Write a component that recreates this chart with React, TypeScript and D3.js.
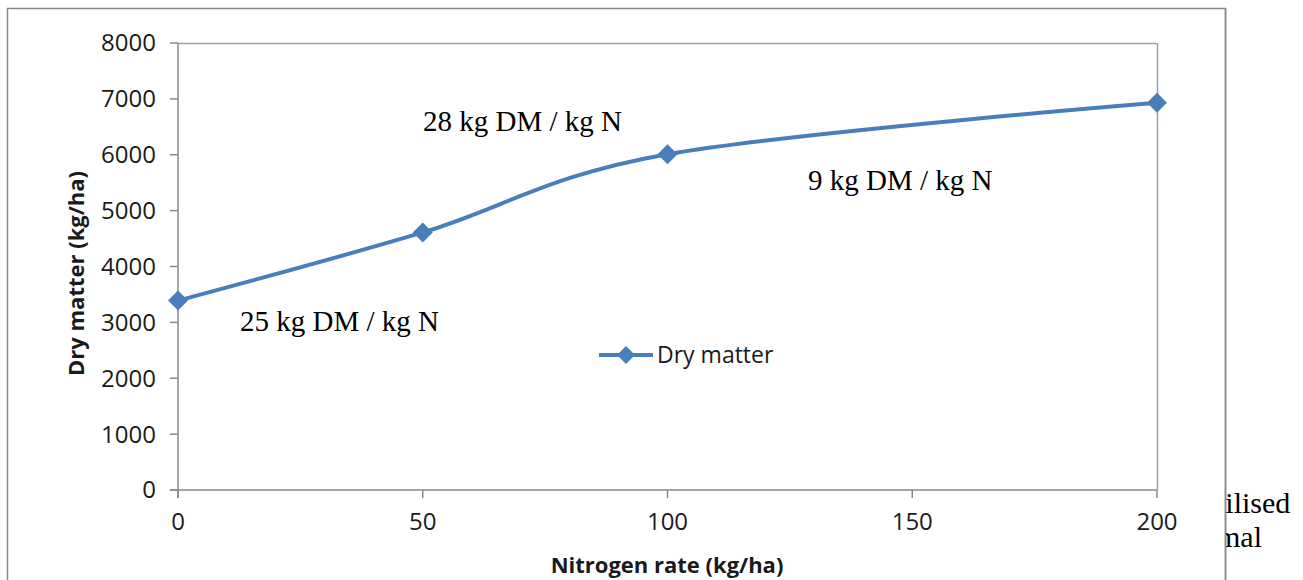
import React from "react";
import * as d3 from "d3";

const nitrogenRates = [0, 50, 100, 200];
const dryMatter = [3390, 4610, 6010, 6930];
const yTicks = [0, 1000, 2000, 3000, 4000, 5000, 6000, 7000, 8000];
const xTicks = [0, 50, 100, 150, 200];
const seriesName = "Dry matter";
const annotations = [
  { text: "28 kg DM / kg N", x: 423, y: 131 },
  { text: "9 kg DM / kg N", x: 808, y: 190 },
  { text: "25 kg DM / kg N", x: 240, y: 331 },
];

const W = 1303;
const H = 580;
const left = 178, right = 1157, top = 43, bottom = 490;
const blue = "#4A7EBB";
const sans = "'Open Sans', 'Noto Sans', sans-serif";
const serif = "'Liberation Serif', 'DejaVu Serif', serif";

export default function App() {
  const x = d3.scaleLinear().domain([0, 200]).range([left, right]);
  const y = d3.scaleLinear().domain([0, 8000]).range([bottom, top]);
  const pts: [number, number][] = nitrogenRates.map((n, i) => [x(n), y(dryMatter[i])]);
  const line = d3.line().curve(d3.curveCardinal.tension(0))(pts) || "";
  const diamond = (cx: number, cy: number, r: number) =>
    `M${cx},${cy - r}L${cx + r},${cy}L${cx},${cy + r}L${cx - r},${cy}Z`;

  return (
    <svg
      width={W}
      height={H}
      style={{ position: "absolute", left: 0, top: 0, background: "#fff" }}
    >
      <defs>
        <clipPath id="rightclip">
          <rect x={1226} y={0} width={100} height={H} />
        </clipPath>
      </defs>
      {/* outer chart border */}
      <rect x={7.5} y={8.5} width={1218} height={H + 20} fill="#fff" stroke="#888" strokeWidth={1.5} />
      {/* plot border top/right */}
      <line x1={left} x2={right} y1={top + 0.5} y2={top + 0.5} stroke="#8FA4BF" strokeWidth={1.5} />
      <line x1={right + 0.5} x2={right + 0.5} y1={top} y2={bottom} stroke="#8FA4BF" strokeWidth={1.5} />
      {/* axes */}
      <line x1={left} x2={left} y1={top} y2={bottom + 8} stroke="#888" strokeWidth={1.5} />
      <line x1={left - 8} x2={right} y1={bottom} y2={bottom} stroke="#888" strokeWidth={1.5} />
      {yTicks.map((t) => (
        <g key={"y" + t}>
          <line x1={left - 8} x2={left} y1={y(t)} y2={y(t)} stroke="#888" strokeWidth={1.5} />
          <text x={156} y={y(t)} dy="0.35em" textAnchor="end" fontFamily={sans} fontSize={24} fill="#1a1a1a">
            {t}
          </text>
        </g>
      ))}
      {xTicks.map((t) => (
        <g key={"x" + t}>
          <line x1={x(t)} x2={x(t)} y1={bottom} y2={bottom + 8} stroke="#888" strokeWidth={1.5} />
          <text x={x(t)} y={522} dy="0.35em" textAnchor="middle" fontFamily={sans} fontSize={24} fill="#1a1a1a">
            {t}
          </text>
        </g>
      ))}
      <text
        transform={`translate(84,${(top + bottom) / 2 + 7}) rotate(-90)`}
        textAnchor="middle"
        fontFamily={sans}
        fontWeight="bold"
        fontSize={22}
        fill="#1a1a1a"
      >
        Dry matter (kg/ha)
      </text>
      <text x={667} y={573} textAnchor="middle" fontFamily={sans} fontWeight="bold" fontSize={22} fill="#1a1a1a">
        Nitrogen rate (kg/ha)
      </text>
      {/* series */}
      <path d={line} fill="none" stroke={blue} strokeWidth={4} />
      {pts.map(([px, py], i) => (
        <path key={i} d={diamond(px, py, 10)} fill={blue} />
      ))}
      {/* legend */}
      <line x1={599} x2={653} y1={355} y2={355} stroke={blue} strokeWidth={4} />
      <path d={diamond(626, 355, 9)} fill={blue} />
      <text x={657} y={355} dy="0.35em" fontFamily={sans} fontSize={23} fill="#1a1a1a">
        {seriesName}
      </text>
      {/* annotation boxes */}
      <rect x={213} y={293} width={245} height={50} fill="#fff" />
      {annotations.map((a) => (
        <text key={a.text} x={a.x} y={a.y} fontFamily={serif} fontSize={29} fill="#000">
          {a.text}
        </text>
      ))}
      {/* clipped body text at right */}
      <g clipPath="url(#rightclip)">
        <text x={1217} y={513} fontFamily={serif} fontSize={30} fill="#000">tilised</text>
        <text x={1207} y={547} fontFamily={serif} fontSize={30} fill="#000">rmal</text>
      </g>
      <line x1={1225.5} x2={1225.5} y1={8} y2={H} stroke="#888" strokeWidth={1.5} />
    </svg>
  );
}
